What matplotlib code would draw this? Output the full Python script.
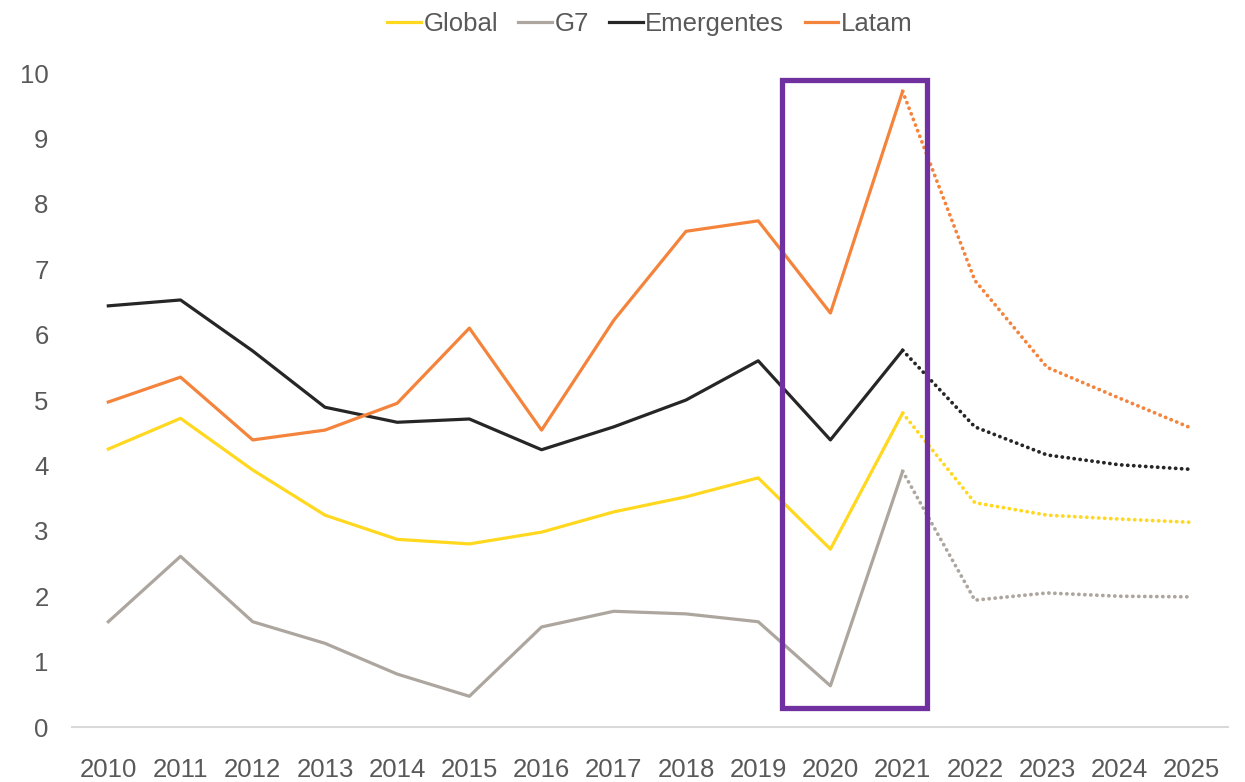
import matplotlib.pyplot as plt
from matplotlib.patches import Rectangle

# data
years = list(range(2010, 2026))
global_gdp = [4.25, 4.72, 3.93, 3.24, 2.87, 2.80, 2.98, 3.29, 3.52, 3.81, 2.72, 4.80, 3.43, 3.24, 3.18, 3.13]
g7 = [1.61, 2.61, 1.61, 1.28, 0.81, 0.47, 1.53, 1.77, 1.73, 1.61, 0.63, 3.91, 1.94, 2.05, 2.00, 1.99]
emergentes = [6.44, 6.53, 5.75, 4.89, 4.66, 4.71, 4.24, 4.59, 5.00, 5.60, 4.39, 5.76, 4.59, 4.16, 4.01, 3.94]
latam = [4.97, 5.35, 4.39, 4.54, 4.95, 6.10, 4.54, 6.22, 7.58, 7.74, 6.33, 9.72, 6.83, 5.50, 5.03, 4.57]

series = [("Global", global_gdp, "#FFD81F"),
          ("G7", g7, "#ADA69E"),
          ("Emergentes", emergentes, "#262626"),
          ("Latam", latam, "#F4843C")]

split = years.index(2021)  # forecast starts after 2021

plt.rcParams["font.family"] = ["Liberation Sans", "DejaVu Sans"]
text_color = "#595959"

fig = plt.figure(figsize=(12.45, 7.82), dpi=100)
ax = fig.add_axes([0.058, 0.0703, 0.928, 0.8363])

for name, vals, col in series:
    ax.plot(years[:split + 1], vals[:split + 1], color=col, lw=2.3, label=name,
            solid_joinstyle="round")
    # forecast part as round dots
    ax.plot(years[split:], vals[split:], color=col, lw=2.7, linestyle=(0, (0.05, 1.55)),
            dash_capstyle="round")

# highlight box around 2020-2021
ax.add_patch(Rectangle((2019.33, 0.29), 2.01, 9.6, fill=False,
                       edgecolor="#7030A0", lw=3.8, zorder=5))

ax.set_xlim(2009.5, 2025.5)
ax.set_ylim(0, 10)
ax.set_xticks(years)
ax.set_yticks(range(0, 11))
ax.tick_params(axis="both", length=0, labelsize=18.5, colors=text_color)
ax.tick_params(axis="x", pad=22)
ax.tick_params(axis="y", pad=17)
for s in ["top", "right", "left"]:
    ax.spines[s].set_visible(False)
ax.spines["bottom"].set_color("#D9D9D9")
ax.spines["bottom"].set_linewidth(1.5)

leg = ax.legend(loc="upper center", bbox_to_anchor=(0.5, 1.128), ncol=4, frameon=False,
                fontsize=18.5, handlelength=1.3, handletextpad=0.1, columnspacing=0.8)
for t in leg.get_texts():
    t.set_color(text_color)

fig.savefig("out.png", dpi=100)
